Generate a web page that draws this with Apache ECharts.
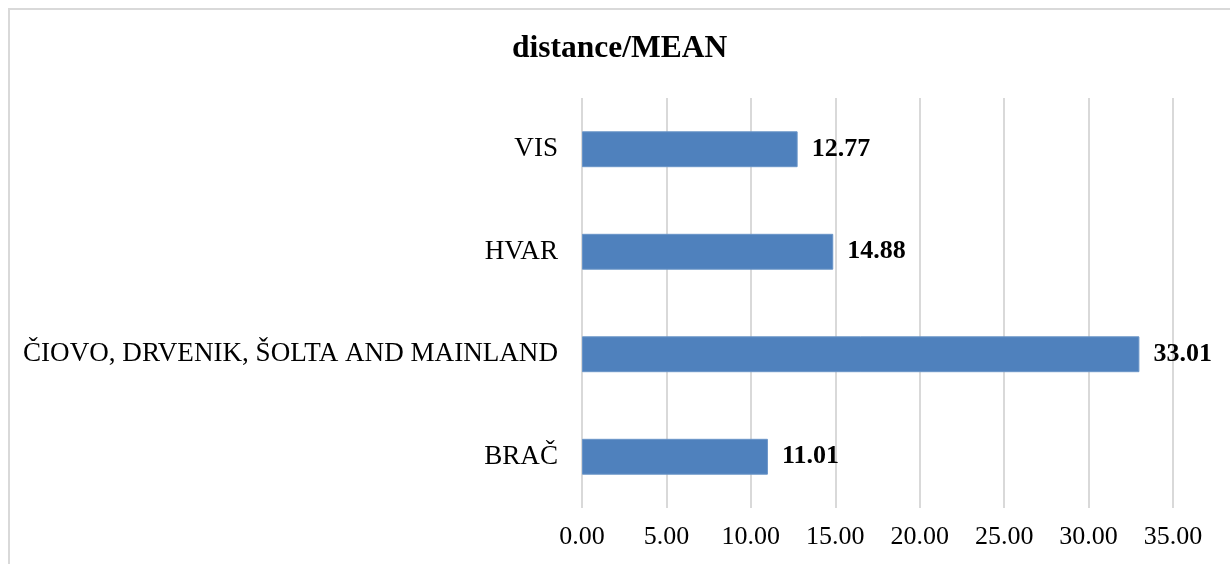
<!DOCTYPE html>
<html><head><meta charset="utf-8">
<script src="https://cdn.jsdelivr.net/npm/echarts@6/dist/echarts.min.js"></script>
<style>html,body{margin:0;padding:0;background:#fff}#c{width:1230px;height:564px}</style>
</head><body><div id="c"></div>
<script>
const categories = ['BRAČ', 'ČIOVO, DRVENIK, ŠOLTA AND MAINLAND', 'HVAR', 'VIS'];
const values = [11.01, 33.01, 14.88, 12.77];
const xTicks = [0, 5, 10, 15, 20, 25, 30, 35];
const titleText = 'distance/MEAN';
const FONT = '"Liberation Serif", "Times New Roman", serif';

const chart = echarts.init(document.getElementById('c'));
chart.setOption({
  animation: false,
  title: { text: titleText, left: 507, top: 28,
    textStyle: { fontFamily: FONT, fontSize: 31.5, fontWeight: 'bold', color: '#000' } },
  graphic: [{ type: 'rect', shape: { x: 9, y: 9, width: 1240, height: 600 },
    style: { fill: 'none', stroke: '#d9d9d9', lineWidth: 2 }, silent: true }],
  grid: { left: 582, right: 57, top: 98, bottom: 56 },
  xAxis: { type: 'value', min: xTicks[0], max: xTicks[xTicks.length - 1], interval: 5,
    axisLine: { show: false }, axisTick: { show: false },
    splitLine: { lineStyle: { color: '#d9d9d9', width: 2 } },
    axisLabel: { formatter: v => v.toFixed(2), fontFamily: FONT, fontSize: 26, color: '#000', margin: 16 } },
  yAxis: { type: 'category', data: categories,
    axisLine: { show: false }, axisTick: { show: false },
    axisLabel: { fontFamily: FONT, fontSize: 27.1, color: '#000', margin: 24 } },
  series: [{ type: 'bar', data: values, barWidth: '35%',
    itemStyle: { color: '#4f81bd', borderColor: '#6a95c8', borderWidth: 1 },
    label: { show: true, position: 'right', distance: 14, formatter: p => p.value.toFixed(2),
      fontFamily: FONT, fontSize: 26, fontWeight: 'bold', color: '#000' } }]
});
</script></body></html>
